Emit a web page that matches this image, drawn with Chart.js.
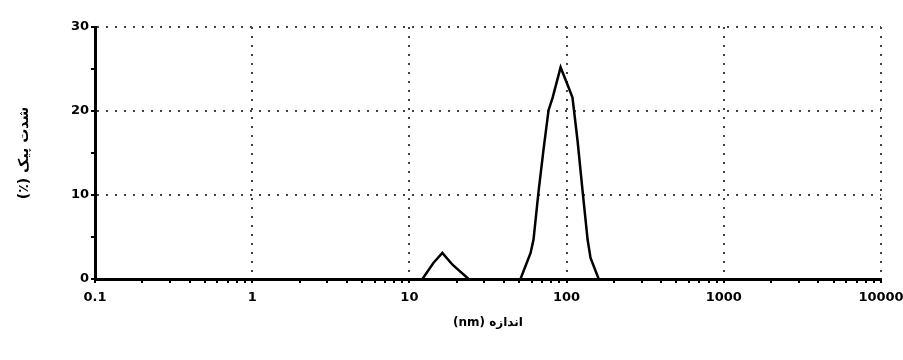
<!DOCTYPE html>
<html>
<head>
<meta charset="utf-8">
<script src="https://cdn.jsdelivr.net/npm/chart.js@4/dist/chart.umd.min.js"></script>
<style>
  body { margin: 0; background: #fff; }
</style>
</head>
<body>
<canvas id="sizeChart" width="903" height="360"></canvas>
<script>
// particle size distribution (nm vs peak intensity %)

const smallPeakSize = [12.1, 14.2, 16.2, 18.8, 23.8];
const smallPeakIntensity = [0, 1.9, 3.1, 1.7, 0];

const mainPeakSize = [50.9, 59.0, 61.6, 66.3, 71.4, 76.8, 81.5, 91.6, 103, 109, 117.5, 126.5, 136, 142, 160];
const mainPeakIntensity = [0, 3.1, 4.7, 10.4, 15.5, 20.1, 21.6, 25.2, 22.8, 21.6, 16.4, 10.4, 4.7, 2.5, 0];

const xTickValues = [0.1, 1, 10, 100, 1000, 10000];
const yTickValues = [0, 10, 20, 30];

const xTitle = "(nm) اندازه";
const yTitle = "(٪) شدت پیک";

function toPoints(xs, ys) {
  return xs.map((x, i) => ({ x: x, y: ys[i] }));
}

// all 1..9 x 10^n positions for the log axis
function logTicks() {
  const out = [];
  for (let d = 0; d < xTickValues.length - 1; d++) {
    for (let m = 1; m < 10; m++) {
      out.push({ value: +(xTickValues[d] * m).toPrecision(6) });
    }
  }
  out.push({ value: xTickValues[xTickValues.length - 1] });
  return out;
}

function isMajorX(v) {
  return xTickValues.some(t => Math.abs(t - v) < 1e-9);
}

const tickFont = { family: "DejaVu Sans", size: 13, weight: "bold" };
const dotColor = "#444";
const clear = "rgba(0,0,0,0)";

new Chart(document.getElementById("sizeChart").getContext("2d"), {
  type: "scatter",
  data: {
    datasets: [
      {
        data: toPoints(smallPeakSize, smallPeakIntensity),
        showLine: true,
        borderColor: "#000",
        borderWidth: 2.5,
        pointRadius: 0,
        tension: 0
      },
      {
        data: toPoints(mainPeakSize, mainPeakIntensity),
        showLine: true,
        borderColor: "#000",
        borderWidth: 2.5,
        pointRadius: 0,
        tension: 0
      }
    ]
  },
  options: {
    responsive: false,
    animation: false,
    layout: { padding: { left: 0, top: 27, right: 22, bottom: 0 } },
    plugins: {
      legend: { display: false },
      tooltip: { enabled: false }
    },
    scales: {
      x: {
        type: "logarithmic",
        min: 0.1,
        max: 10000,
        afterBuildTicks: scale => { scale.ticks = logTicks(); },
        afterFit: scale => {
          scale.height = 81;
          scale.paddingLeft = 0;
          scale.paddingRight = 0;
        },
        ticks: {
          autoSkip: false,
          maxRotation: 0,
          padding: 7,
          color: "#000",
          font: tickFont,
          callback: v => isMajorX(v) ? String(v) : ""
        },
        grid: {
          lineWidth: 2,
          color: ctx => (isMajorX(ctx.tick.value) && ctx.tick.value > 0.1) ? dotColor : clear,
          tickColor: "#000",
          tickLength: 4,
          tickWidth: 2
        },
        border: { color: "#000", width: 3, dash: [2, 7] },
        title: {
          display: true,
          text: xTitle,
          color: "#000",
          font: { family: "DejaVu Sans", size: 12, weight: "bold" },
          padding: { top: 0, bottom: 30 }
        }
      },
      y: {
        min: 0,
        max: 30,
        afterFit: scale => { scale.width = 95; },
        ticks: {
          stepSize: 5,
          padding: 2,
          color: "#000",
          font: tickFont,
          callback: v => yTickValues.includes(v) ? String(v) : ""
        },
        grid: {
          lineWidth: 2,
          color: ctx => (ctx.tick.value % 10 === 0 && ctx.tick.value > 0) ? dotColor : clear,
          tickColor: "#000",
          tickLength: 4,
          tickWidth: 2
        },
        border: { color: "#000", width: 3, dash: [2, 7] },
        title: {
          display: true,
          text: yTitle,
          color: "#000",
          font: { family: "DejaVu Sans", size: 14, weight: "bold" },
          padding: { top: 16, bottom: 0 }
        }
      }
    }
  }
});
</script>
</body>
</html>
